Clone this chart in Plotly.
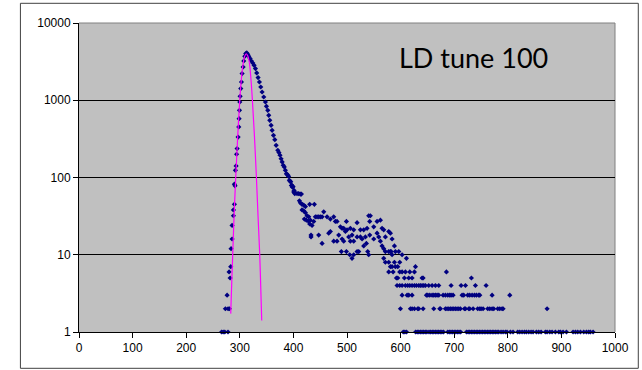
import plotly.graph_objects as go

# ---------------- data ----------------
# rising edge (channel, counts)
rise_x = [266, 269, 272, 278, 273.1, 278.1, 280.6, 276.3, 281.9, 280.0, 283.1,
          283.7, 285.6, 285.6, 288.1, 288.1, 289.9, 289.9, 291.1, 291.8, 293.1,
          294.0, 295.0, 296.8, 298.1, 298.7, 299.4, 300.0, 300.6, 301.8, 303.1,
          304.3, 306.2, 307.4, 309.3, 311.1, 313.0]
rise_y = [1, 1, 1, 1, 2, 2, 2, 3, 5, 6, 7,
          12, 16, 24, 32, 38, 45, 82, 78, 124, 141,
          200, 237, 334, 451, 578, 741, 949, 1125, 1415, 1722,
          2213, 2694, 3222, 3706, 4018, 4100]

# falling edge
fall_x = [314.9, 316.7, 319.2, 321.7, 324.2, 326.7, 329.2, 331.6, 334.1, 336.6,
          339.1, 341.6, 344.7, 347.8, 349.7, 352.2, 354.0, 355.9, 358.4, 360.3,
          362.8, 365.3, 367.8, 370.9, 373.0, 375.0, 377.0, 379.0, 381.0, 383.0,
          385.0, 387.0, 388.0, 390.0, 391.0, 392.5, 393.5, 395.0, 396.2, 397.5,
          398.1, 399.4, 400.6, 401.3, 402.4, 403.7, 406.8, 409.9]
fall_y = [3936, 3706, 3460, 3222, 3036, 2833, 2570, 2255, 1965, 1722,
          1485, 1279, 1102, 949, 835, 741, 639, 550, 474, 408,
          352, 309, 261, 225, 210, 194, 175, 159, 144, 137,
          124, 112, 110, 107, 103, 92, 90, 88, 79, 79,
          75, 76, 65, 68, 62, 63, 62, 62]

# noisy shoulder
shoulder_x = [411.2, 413.0, 413.0, 414.9, 416.1, 416.1, 419.2, 419.2, 420.5, 422.4,
              422.4, 424.2, 425.5, 428.6, 428.6, 430.4, 430.4, 431.7, 432.9, 432.9,
              434.8, 437.9, 439.1, 441.0, 444.1, 447.2, 447.2, 450.3, 453.5, 453.5,
              456.6, 462.8, 465.9, 469.0, 469.0, 475.2, 475.2, 478.3, 481.4, 481.4,
              484.6, 487.7, 489.5, 490.8, 490.8, 493.9, 493.9, 497.0, 498.9, 498.9,
              500.1, 503.2, 505.1, 506.3, 506.3, 509.4, 509.4, 512.5, 512.5, 512.5,
              518.8, 518.8, 518.8, 521.9, 525.0, 525.0, 528.1, 531.2, 531.2, 534.3,
              536.2, 537.4, 538.7, 540.5, 540.5, 542.4, 542.4, 543.6, 549.9, 549.9,
              556.1, 556.1, 559.2, 562.3, 562.3, 565.4, 565.4, 568.5, 568.5, 568.5,
              571.6, 571.6, 571.6, 577.9, 577.9, 577.9, 577.9, 581.0, 581.0, 581.0,
              584.1, 588.5, 590.3]
shoulder_y = [50, 61, 47, 61, 45, 38, 44, 37, 29, 42,
              35, 28, 32, 31, 27, 45, 25, 28, 18, 17,
              24, 27, 45, 31, 31, 31, 18, 31, 31, 14,
              36, 31, 19, 29, 20, 31, 15, 27, 27, 15,
              18, 23, 11, 22, 16, 22, 15, 20, 27, 11,
              21, 17, 10, 22, 15, 18, 9, 21, 15, 10,
              26, 17, 11, 11, 21, 17, 16, 21, 13, 17,
              14, 22, 11, 32, 10, 27, 18, 32, 23, 16,
              27, 19, 17, 28, 15, 22, 13, 21, 12, 9,
              17, 11, 8, 20, 11, 8, 6, 19, 11, 7,
              16, 13, 11]

# low-count tail (integer counts)
tail_x = [582.2, 596.6, 584.1, 602.8, 610.9, 588.5, 598.4, 584.1, 590.3, 594.7,
          627.7, 586.0, 598.4, 602.8, 609.0, 617.1, 625.8, 685.5, 592.2, 594.7,
          607.1, 615.2, 621.4, 640.1, 642.0, 732.1,
          593.4, 598.4, 602.8, 609.0, 613.3, 617.1, 621.4, 625.8, 629.5, 633.9,
          637.0, 640.1, 643.2, 646.3, 652.5, 658.8, 665.0, 671.2, 694.2, 712.9,
          721.0, 739.6, 759.5,
          602.8, 612.1, 615.2, 621.4, 648.2, 650.7, 654.4, 658.8, 661.9, 665.0,
          668.1, 671.2, 679.3, 683.6, 688.0, 691.7, 694.2, 697.9, 714.7, 717.8,
          725.3, 729.0, 733.4, 737.7, 741.5, 745.8, 747.7, 770.7, 803.7,
          599.7, 618.3, 621.4, 625.8, 632.0, 633.9, 642.0, 661.9, 673.1, 674.3,
          683.6, 686.7, 689.9, 693.0, 696.1, 699.2, 702.3, 705.4, 708.5, 711.6,
          719.1, 721.0, 727.2, 729.0, 735.3, 743.9, 747.7, 750.2, 753.9, 762.6,
          766.4, 770.7, 773.8, 781.3, 785.0, 789.3, 791.2, 873.3]
tail_y = [11, 11, 10, 10, 9, 8, 8, 7, 7, 7,
          7, 6, 6, 6, 6, 6, 6, 6, 5, 5,
          5, 5, 5, 5, 5, 5,
          4, 4, 4, 4, 4, 4, 4, 4, 4, 4,
          4, 4, 4, 4, 4, 4, 4, 4, 4, 4,
          4, 4, 4,
          3, 3, 3, 3, 3, 3, 3, 3, 3, 3,
          3, 3, 3, 3, 3, 3, 3, 3, 3, 3,
          3, 3, 3, 3, 3, 3, 3, 3, 3,
          2, 2, 2, 2, 2, 2, 2, 2, 2, 2,
          2, 2, 2, 2, 2, 2, 2, 2, 2, 2,
          2, 2, 2, 2, 2, 2, 2, 2, 2, 2,
          2, 2, 2, 2, 2, 2, 2, 2]

# single counts along the floor
floor_x = [605, 608, 611, 628, 631, 634, 637, 640, 643, 646, 649, 653, 656, 659,
           662, 665, 668, 671, 674, 677, 680, 688, 691, 694, 697, 700, 703, 706,
           709, 712, 723, 726, 729, 732, 735, 738, 741, 744, 747, 750, 753, 756,
           759, 762, 765, 768, 771, 774, 777, 780, 783, 787.4, 791.2, 795.5, 798.6,
           804.9, 809.8, 818.5, 822.3, 826.6, 831.0, 834.7, 839.1, 843.4, 847.2,
           853.4, 857.7, 862.1, 870.1, 873.3, 878.3, 882.6, 888.8, 895.1, 898.2,
           903.1, 909.4, 921.8, 926.2, 930.5, 935.5, 941.7, 946.7, 951.0, 954.1,
           959.1]
floor_y = [1] * len(floor_x)

# Gaussian fit line (magenta)
fit_x = [283.1, 285.0, 286.8, 289.0, 292.4, 296.0, 299.9, 303.0, 306.0, 309.0,
         312.0, 315.0, 318.0, 321.0, 323.5, 327.0, 331.0, 334.0, 337.2, 339.0, 340.9]
fit_y = [1.73, 4.5, 10, 28, 100, 330, 1000, 1900, 2900, 3700,
         4000, 3750, 3000, 1800, 1000, 380, 100, 32, 10, 4, 1.41]

x_ticks = [0, 100, 200, 300, 400, 500, 600, 700, 800, 900, 1000]
y_ticks = [1, 10, 100, 1000, 10000]
y_tick_text = ["1", "10", "100", "1000", "10000"]
title_text = "LD tune 100"

# ---------------- figure ----------------
data_x = rise_x + fall_x + shoulder_x + tail_x + floor_x
data_y = rise_y + fall_y + shoulder_y + tail_y + floor_y

fig = go.Figure()
fig.add_trace(go.Scatter(
    x=data_x, y=data_y, mode="markers",
    marker=dict(symbol="diamond", size=4, color="#000080", line=dict(width=0)),
    cliponaxis=False, hoverinfo="skip", showlegend=False))
fig.add_trace(go.Scatter(
    x=fit_x, y=fit_y, mode="lines", line=dict(color="#FF00FF", width=1.2, shape="spline"),
    hoverinfo="skip", showlegend=False))

L, R, T, B = 78.6, 27.3, 22.7, 38.3
W, H = 642, 370
pw, ph = W - L - R, H - T - B

def px_x(p):
    return (p - L) / pw

def px_y(p):
    return (H - B - p) / ph

fig.update_layout(
    width=W, height=H,
    margin=dict(l=L, r=R, t=T, b=B, pad=0),
    paper_bgcolor="white", plot_bgcolor="#C0C0C0",
    font=dict(family="Liberation Sans, Arial", size=12, color="black"),
    xaxis=dict(range=[0, 1000], tickvals=x_ticks, showgrid=False, zeroline=False,
               showline=True, linecolor="black", linewidth=1,
               ticks="outside", ticklen=5, tickcolor="black", tickfont=dict(size=12)),
    yaxis=dict(type="log", range=[0, 4], tickvals=y_ticks, ticktext=y_tick_text,
               showgrid=True, gridcolor="black", gridwidth=1, zeroline=False,
               showline=True, linecolor="black", linewidth=1,
               ticks="outside", ticklen=5, tickcolor="black", tickfont=dict(size=12)),
    shapes=[
        dict(type="line", xref="paper", yref="paper", x0=0, x1=1, y0=1, y1=1,
             line=dict(color="#808080", width=1), layer="below"),
        dict(type="line", xref="paper", yref="paper", x0=1, x1=1, y0=0, y1=1,
             line=dict(color="#808080", width=1), layer="below"),
        dict(type="rect", xref="paper", yref="paper",
             x0=px_x(20), x1=px_x(638), y0=px_y(368), y1=px_y(3),
             line=dict(color="#404040", width=1), layer="below"),
    ],
    annotations=[dict(text=title_text, xref="paper", yref="paper",
                      x=px_x(473), y=px_y(57.7), xanchor="center", yanchor="middle",
                      showarrow=False, font=dict(family="Lato", size=27, color="black"))],
)

fig.write_html("out.html")
